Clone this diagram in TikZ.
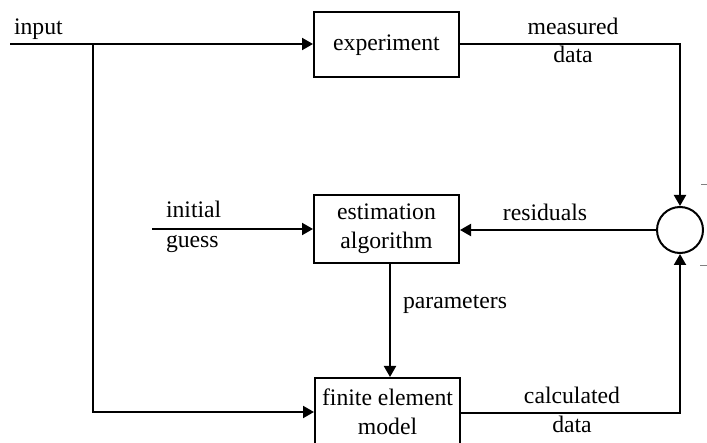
\documentclass[tikz,border=0pt]{standalone}
\usepackage{fontspec}
\setmainfont{Liberation Serif}
\usetikzlibrary{arrows.meta}
\begin{document}
\begin{tikzpicture}[x=0.5pt,y=-0.5pt,
  font=\fontsize{11.85}{14.5}\selectfont,
  line width=1pt,
  flow/.style={-{Triangle[length=5.5pt,width=6pt]}},
  blockbox/.style={draw,inner sep=0pt,align=center,minimum width=72.5pt},
  lbl/.style={inner sep=0pt,anchor=base}]
\clip (0,0) rectangle (707,443);

% blocks
\node[blockbox,minimum height=32.5pt] (exp) at (386.5,45) {experiment};
\node[blockbox,minimum height=34pt]   (est) at (386.5,229) {estimation\\algorithm};
\node[blockbox,minimum height=34pt]   (fem) at (387.5,412) {finite element\\model};
\node[draw,circle,minimum size=23pt,inner sep=0pt] (sum) at (680,230) {};

% helper points
\coordinate (in)   at (10,44);
\coordinate (br)   at (93,44);
\coordinate (brlo) at (93,412);
\coordinate (guess) at (152,229);
\coordinate (mcorner) at (680,44);
\coordinate (ccorner) at (680,413);

% connectors
\draw[flow] (in) -- (exp.west |- in);
\draw[flow] (br) -- (brlo) -- (fem.west |- brlo);
\draw[flow] (guess) -- (est.west |- guess);
\draw[flow] (exp.east |- mcorner) -- (mcorner) -- (sum.north);
\draw[flow] (fem.east |- ccorner) -- (ccorner) -- (sum.south);
\draw[flow] (sum.west) -- (est.east |- sum.west);
\draw[flow] (est.south -| 390,0) -- (fem.north -| 390,0);

% labels
\node[lbl,anchor=base west] (tin) at (13,35) {input};
\node[lbl] (tmeas) at (573,35) {measured};
\node[lbl] (tmdata) at (573,63) {data};
\node[lbl] (tres) at (545,221) {residuals};
\node[lbl,anchor=base west] (tinit) at (165,218) {initial};
\node[lbl,anchor=base west] (tguess) at (165,248) {guess};
\node[lbl,anchor=base west] (tpar) at (402,309) {parameters};
\node[lbl] (tcalc) at (572,403) {calculated};
\node[lbl] (tcdata) at (572,432) {data};

% sign marks beside the summing point
\draw[line width=0.5pt,gray] (701,185) -- (707,185);
\draw[line width=0.5pt,gray] (700,266) -- (707,266);
\end{tikzpicture}
\end{document}
